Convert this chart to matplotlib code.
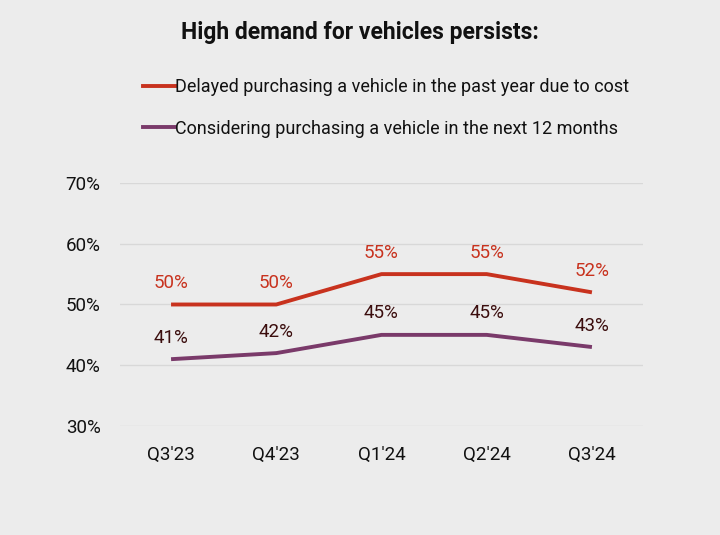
import matplotlib
matplotlib.use("Agg")
import matplotlib.pyplot as plt
from matplotlib.lines import Line2D

quarters = ["Q3'23", "Q4'23", "Q1'24", "Q2'24", "Q3'24"]
delayed = [50, 50, 55, 55, 52]
considering = [41, 42, 45, 45, 43]
yticks = [30, 40, 50, 60, 70]
title = "High demand for vehicles persists:"
label_delayed = "Delayed purchasing a vehicle in the past year due to cost"
label_considering = "Considering purchasing a vehicle in the next 12 months"

plt.rcParams['font.family'] = ['Roboto', 'DejaVu Sans']

bg = "#ececec"
red = "#c8321e"
purple = "#7a3a6a"
dark = "#3b0d0d"

fig = plt.figure(figsize=(7.2, 5.35), dpi=100, facecolor=bg)
ax = fig.add_axes([0.1667, 0.2037, 0.7263, 0.4543], facecolor=bg)

x = list(range(len(quarters)))
ax.plot(x, delayed, color=red, lw=2.8, solid_capstyle='butt')
ax.plot(x, considering, color=purple, lw=2.8, solid_capstyle='butt')
for xi, v in zip(x, delayed):
    ax.annotate(f"{v}%", (xi, v), xytext=(0, 9), textcoords='offset points',
                ha='center', va='bottom', color=red, fontsize=13.5)
for xi, v in zip(x, considering):
    ax.annotate(f"{v}%", (xi, v), xytext=(0, 9), textcoords='offset points',
                ha='center', va='bottom', color=dark, fontsize=13.5)

ax.set_ylim(30, 70)
ax.set_xlim(-0.485, 4.485)
ax.set_yticks(yticks)
ax.set_yticklabels([f"{t}%" for t in yticks])
ax.set_xticks(x)
ax.set_xticklabels(quarters)
ax.grid(axis='y', color='#d8d8d8', lw=1)
ax.set_axisbelow(True)
for s in ax.spines.values():
    s.set_visible(False)
ax.tick_params(length=0, labelsize=13.5, colors='#111111')
ax.tick_params(axis='y', pad=14)
ax.tick_params(axis='x', pad=14.5)

fig.text(0.5, 0.940, title, ha='center', va='center', fontsize=16.5,
         fontweight='bold', color='#111111')

handles = [Line2D([], [], color=red, lw=2.8), Line2D([], [], color=purple, lw=2.8)]
leg = fig.legend(handles, [label_delayed, label_considering], loc='upper left',
                 bbox_to_anchor=(0.1986, 0.8545), frameon=False, fontsize=13,
                 handlelength=1.75, handletextpad=0.05, labelspacing=1.32,
                 borderaxespad=0, borderpad=0, labelcolor='#111111')

fig.savefig("out.png", dpi=100, facecolor=bg)
